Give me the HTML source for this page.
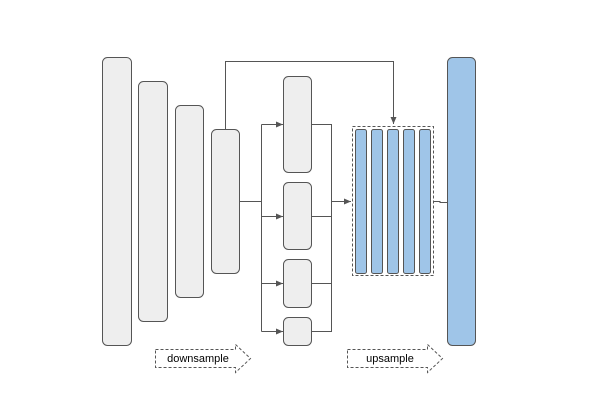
<!DOCTYPE html>
<html><head><style>body{margin:0;background:#fff}</style></head><body>
<svg width="600" height="401" xmlns="http://www.w3.org/2000/svg" font-family="Liberation Sans, sans-serif">
<defs><marker id="a" markerWidth="8" markerHeight="8" refX="7" refY="4" orient="auto" markerUnits="userSpaceOnUse"><path d="M0,1 L7,4 L0,7 Z" fill="#555"/></marker></defs>
<g fill="#eeeeee" stroke="#555" stroke-width="1">
<rect x="102.5" y="57.5" width="29" height="288" rx="5"/>
<rect x="138.5" y="81.5" width="29" height="240" rx="5"/>
<rect x="175.5" y="105.5" width="28" height="192" rx="5"/>
<rect x="211.5" y="129.5" width="28" height="144" rx="5"/>
<rect x="283.5" y="76.5" width="28" height="96" rx="5"/>
<rect x="283.5" y="182.5" width="28" height="67" rx="5"/>
<rect x="283.5" y="259.5" width="28" height="48" rx="5"/>
<rect x="283.5" y="317.5" width="28" height="28" rx="5"/>
</g>
<g fill="none" stroke="#555" stroke-width="1">
<path d="M225.5,129 V61.5 H393.5 V124" marker-end="url(#a)"/>
<path d="M239.5,201.5 H261.5"/>
<path d="M261.5,124.5 V331.5"/>
<path d="M261.5,124.5 H283" marker-end="url(#a)"/>
<path d="M261.5,216.5 H283" marker-end="url(#a)"/>
<path d="M261.5,283.5 H283" marker-end="url(#a)"/>
<path d="M261.5,331.5 H283" marker-end="url(#a)"/>
<path d="M311.5,124.5 H331.5 V331.5 H311.5 M311.5,216.5 H331.5 M311.5,283.5 H331.5"/>
<path d="M331.5,201.5 H351" marker-end="url(#a)"/>
<path d="M433,201.5 H440 V202.5 H447"/>
<rect x="352.5" y="126.5" width="81" height="149" stroke-dasharray="3,2"/>
</g>
<g fill="#9fc5e8" stroke="#555" stroke-width="1">
<rect x="355.5" y="129.5" width="11" height="144" rx="2"/>
<rect x="371.5" y="129.5" width="11" height="144" rx="2"/>
<rect x="387.5" y="129.5" width="11" height="144" rx="2"/>
<rect x="403.5" y="129.5" width="11" height="144" rx="2"/>
<rect x="419.5" y="129.5" width="11" height="144" rx="2"/>
<rect x="447.5" y="57.5" width="28" height="288" rx="5"/>
</g>
<g fill="none" stroke="#555" stroke-dasharray="3,2">
<path d="M155.5,349.5 H235.5 V344.5 L250.5,358.5 L235.5,372.5 V367.5 H155.5 Z"/>
<path d="M347.5,349.5 H427.5 V344.5 L442.5,358.5 L427.5,372.5 V367.5 H347.5 Z"/>
</g>
<text x="198" y="362" font-size="11" text-anchor="middle" fill="#000">downsample</text>
<text x="390" y="362" font-size="11" text-anchor="middle" fill="#000">upsample</text>
</svg>
</body></html>
